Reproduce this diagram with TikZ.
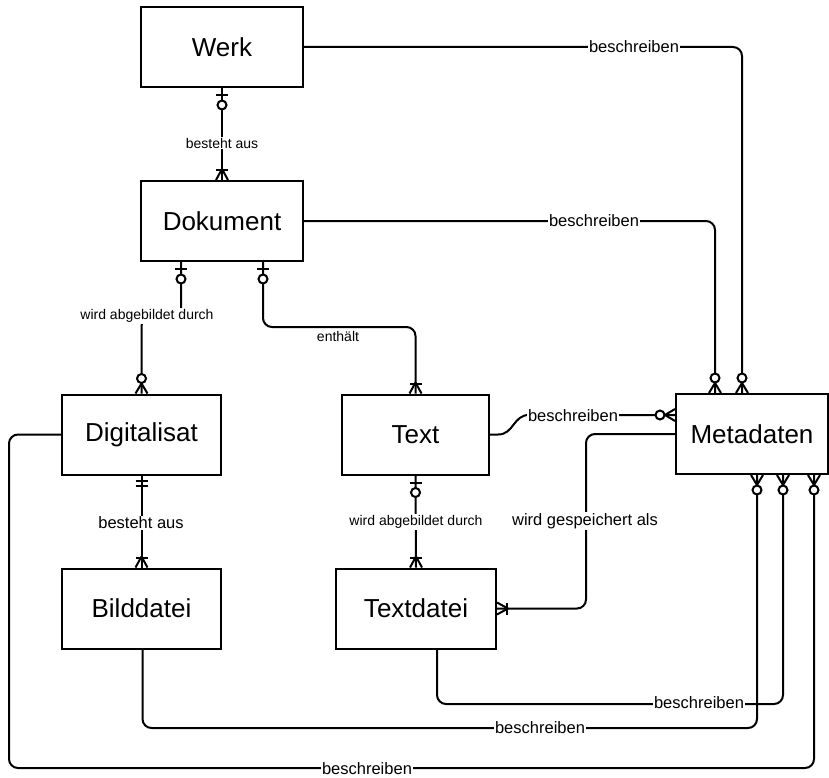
\documentclass[tikz,border=0pt]{standalone}
\usepackage{fontspec}
\setmainfont{Liberation Sans}
\usetikzlibrary{calc}
\tikzset{
  ent/.style={draw, line width=2pt, minimum height=80pt, inner sep=0pt, font=\fontsize{26}{30}\selectfont},
  conn/.style={line width=2pt, rounded corners=9pt},
  lbl/.style={fill=white, inner sep=1pt, font=\fontsize{16.5}{19}\selectfont},
  slbl/.style={fill=white, inner sep=1pt, font=\fontsize{14}{16}\selectfont},
  mk/.style={line width=2pt},
  zeroone/.pic={\draw[mk] (7,-6)--(7,6); \draw[mk,fill=white] (17,0) circle (4.5);},
  onemany/.pic={\draw[mk] (0,6)--(11,0); \draw[mk] (0,-6)--(11,0); \draw[mk] (10,-6)--(10,6);},
  zeromany/.pic={\draw[mk] (0,6)--(10,0); \draw[mk] (0,-6)--(10,0); \draw[mk,fill=white] (15,0) circle (4.5);},
  exactlyone/.pic={\draw[mk] (5,-6)--(5,6); \draw[mk] (10,-6)--(10,6);}
}
\begin{document}
\begin{tikzpicture}[x=1pt,y=1pt]
\useasboundingbox (0,0) rectangle (829,-778);
% entities
\node[ent, minimum width=162pt] (werk) at (222,-47) {Werk};
\node[ent, minimum width=162pt] (dokument) at (222,-221) {Dokument};
\node[ent, minimum width=159pt] (digitalisat) at (141.5,-434.5) {Digitalisat};
\node[ent, minimum width=147pt] (text) at (415.5,-434.5) {Text};
\node[ent, minimum width=152pt] (metadaten) at (752,-434) {Metadaten};
\node[ent, minimum width=159pt] (bilddatei) at (141.5,-608.5) {Bilddatei};
\node[ent, minimum width=160pt] (textdatei) at (416,-608.5) {Textdatei};
% attachment points
\coordinate (dk1) at ($(dokument.south west)!0.25!(dokument.south east)$);
\coordinate (dk2) at ($(dokument.south west)!0.75!(dokument.south east)$);
\coordinate (mt1) at ($(metadaten.north west)+(40,0)$);
\coordinate (mt2) at ($(metadaten.north west)+(67,0)$);
\coordinate (ml1) at ($(metadaten.north west)+(0,-22)$);
\coordinate (mb1) at ($(metadaten.south west)+(82,0)$);
\coordinate (mb2) at ($(metadaten.south west)+(108,0)$);
\coordinate (mb3) at ($(metadaten.south west)+(139,0)$);
\coordinate (td) at ($(textdatei.south)+(21,0)$);
\coordinate (bd) at ($(bilddatei.south)+(1,0)$);
% connectors
\draw[conn] (werk.south) -- (dokument.north);
\draw[conn] (dk1) -- ++(0,-55) -| (digitalisat.north);
\draw[conn] (dk2) -- ++(0,-65) -| (text.north);
\draw[conn] (werk.east) -| (mt2);
\draw[conn] (dokument.east) -| (mt1);
\draw[line width=2pt] (text.east) -- ++(8,0) .. controls +(16,0) and +(-16,0) .. ($(ml1)+(-146,0)$) -- (ml1);
\draw[conn] (metadaten.west) -- ++(-89,0) |- (textdatei.east);
\draw[conn] (digitalisat.south) -- (bilddatei.north);
\draw[conn] (text.south) -- (textdatei.north);
\draw[conn] (td) |- ($(mb2)+(0,-229)$) -- (mb2);
\draw[conn] (bd) |- ($(mb1)+(0,-253)$) -- (mb1);
\draw[conn] (digitalisat.west) -- ++(-52,0) |- ($(mb3)+(0,-293)$) -- (mb3);
% labels
\node[slbl] (l1) at (222,-143) {besteht aus};
\node[slbl] (l2) at (147,-316) {wird abgebildet durch};
\node[slbl, inner sep=0.5pt] (l3) at (338,-336) {enthält};
\node[lbl] (l4) at (634,-47) {beschreiben};
\node[lbl] (l5) at (594,-221) {beschreiben};
\node[lbl] (l6) at (573,-416) {beschreiben};
\node[lbl] (l7) at (585,-521) {wird gespeichert als};
\node[lbl] (l8) at (141,-523) {besteht aus};
\node[slbl] (l9) at (416,-522) {wird abgebildet durch};
\node[lbl] (l10) at (699,-703) {beschreiben};
\node[lbl] (l11) at (540,-728) {beschreiben};
\node[lbl] (l12) at (367,-769) {beschreiben};
% markers
\pic[rotate=-90] at (werk.south) {zeroone};
\pic[rotate=90] at (dokument.north) {onemany};
\pic[rotate=-90] at (dk1) {zeroone};
\pic[rotate=90] at (digitalisat.north) {zeromany};
\pic[rotate=-90] at (dk2) {zeroone};
\pic[rotate=90] at (text.north) {onemany};
\pic[rotate=90] at (mt1) {zeromany};
\pic[rotate=90] at (mt2) {zeromany};
\pic[rotate=180] at (ml1) {zeromany};
\pic at (textdatei.east) {onemany};
\pic[rotate=-90] at (digitalisat.south) {exactlyone};
\pic[rotate=90] at (bilddatei.north) {onemany};
\pic[rotate=-90] at (text.south) {zeroone};
\pic[rotate=90] at (textdatei.north) {onemany};
\pic[rotate=-90] at (mb1) {zeromany};
\pic[rotate=-90] at (mb2) {zeromany};
\pic[rotate=-90] at (mb3) {zeromany};
\end{tikzpicture}
\end{document}
